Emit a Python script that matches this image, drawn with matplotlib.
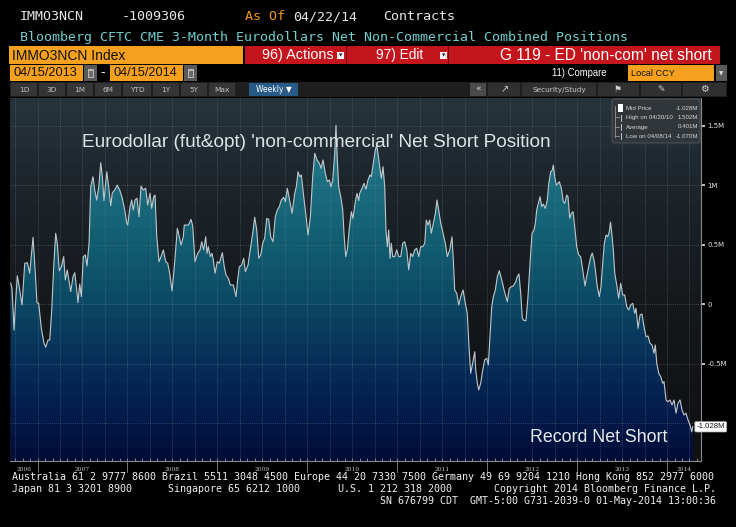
import numpy as np
import matplotlib
matplotlib.use("Agg")
import matplotlib.pyplot as plt
from matplotlib.patches import Rectangle, FancyBboxPatch, PathPatch
from matplotlib.path import Path
from matplotlib.lines import Line2D
import matplotlib.transforms as mtransforms
from matplotlib import font_manager

# ---------------- data ----------------
week_year = [
    2006.702, 2006.716, 2006.739, 2006.753, 2006.775, 2006.802, 2006.828, 2006.858, 2006.887, 2006.913,
    2006.950, 2006.969, 2006.994, 2007.013, 2007.042, 2007.072, 2007.091, 2007.117, 2007.136, 2007.158,
    2007.180, 2007.202, 2007.220, 2007.242, 2007.265, 2007.291, 2007.309, 2007.331, 2007.369, 2007.395,
    2007.414, 2007.436, 2007.450, 2007.469, 2007.487, 2007.509, 2007.532, 2007.550, 2007.573, 2007.592,
    2007.617, 2007.636, 2007.658, 2007.681, 2007.703, 2007.721, 2007.739, 2007.770, 2007.792, 2007.814,
    2007.832, 2007.858, 2007.887, 2007.914, 2007.940, 2007.970, 2007.992, 2008.003, 2008.029, 2008.047,
    2008.065, 2008.084, 2008.106, 2008.129, 2008.151, 2008.177, 2008.203, 2008.225, 2008.251, 2008.270,
    2008.292, 2008.307, 2008.326, 2008.351, 2008.373, 2008.399, 2008.426, 2008.448, 2008.470, 2008.496,
    2008.521, 2008.555, 2008.577, 2008.596, 2008.621, 2008.632, 2008.677, 2008.707, 2008.726, 2008.751,
    2008.781, 2008.807, 2008.826, 2008.848, 2008.870, 2008.885, 2008.899, 2008.922, 2008.940, 2008.955,
    2008.974, 2008.999, 2009.022, 2009.055, 2009.077, 2009.096, 2009.122, 2009.144, 2009.177, 2009.207,
    2009.226, 2009.244, 2009.271, 2009.293, 2009.311, 2009.341, 2009.366, 2009.393, 2009.415, 2009.438,
    2009.460, 2009.482, 2009.504, 2009.526, 2009.549, 2009.571, 2009.593, 2009.619, 2009.644, 2009.667,
    2009.689, 2009.711, 2009.738, 2009.756, 2009.778, 2009.800, 2009.830, 2009.860, 2009.878, 2009.897,
    2009.916, 2009.934, 2009.956, 2009.978, 2010.008, 2010.034, 2010.060, 2010.083, 2010.108, 2010.134,
    2010.153, 2010.175, 2010.200, 2010.223, 2010.245, 2010.264, 2010.283, 2010.305, 2010.319, 2010.334,
    2010.349, 2010.372, 2010.394, 2010.408, 2010.427, 2010.445, 2010.467, 2010.490, 2010.508, 2010.534,
    2010.553, 2010.572, 2010.583, 2010.608, 2010.631, 2010.653, 2010.675, 2010.697, 2010.712, 2010.734,
    2010.756, 2010.772, 2010.786, 2010.805, 2010.823, 2010.842, 2010.861, 2010.875, 2010.890, 2010.905,
    2010.920, 2010.934, 2010.950, 2010.972, 2010.994, 2011.017, 2011.039, 2011.061, 2011.083, 2011.106,
    2011.128, 2011.150, 2011.172, 2011.194, 2011.217, 2011.239, 2011.261, 2011.283, 2011.306, 2011.323,
    2011.342, 2011.361, 2011.379, 2011.398, 2011.424, 2011.442, 2011.461, 2011.484, 2011.509, 2011.535,
    2011.557, 2011.584, 2011.609, 2011.624, 2011.639, 2011.662, 2011.684, 2011.706, 2011.732, 2011.757,
    2011.779, 2011.798, 2011.817, 2011.839, 2011.862, 2011.873, 2011.891, 2011.906, 2011.928, 2011.951,
    2011.973, 2011.995, 2012.013, 2012.032, 2012.051, 2012.069, 2012.091, 2012.113, 2012.135, 2012.158,
    2012.188, 2012.224, 2012.246, 2012.269, 2012.291, 2012.318, 2012.335, 2012.354, 2012.373, 2012.391,
    2012.410, 2012.432, 2012.454, 2012.477, 2012.499, 2012.521, 2012.536, 2012.551, 2012.569, 2012.588,
    2012.607, 2012.624, 2012.647, 2012.669, 2012.685, 2012.707, 2012.725, 2012.736, 2012.751, 2012.769,
    2012.788, 2012.802, 2012.825, 2012.847, 2012.863, 2012.885, 2012.899, 2012.918, 2012.936, 2012.955,
    2012.974, 2012.996, 2013.018, 2013.040, 2013.063, 2013.088, 2013.114, 2013.133, 2013.152, 2013.169,
    2013.188, 2013.199, 2013.225, 2013.247, 2013.266, 2013.285, 2013.303, 2013.322, 2013.341, 2013.358,
    2013.372, 2013.388, 2013.403, 2013.419, 2013.441, 2013.463, 2013.485, 2013.507, 2013.530, 2013.552,
    2013.574, 2013.596, 2013.619, 2013.641, 2013.655, 2013.678, 2013.700, 2013.722, 2013.744, 2013.767,
    2013.789, 2013.811, 2013.833, 2013.856, 2013.870, 2013.886, 2013.908, 2013.930, 2013.952, 2013.967,
    2013.989, 2014.011, 2014.033, 2014.056, 2014.078, 2014.100, 2014.122, 2014.145, 2014.167, 2014.189,
    2014.211, 2014.234, 2014.256, 2014.275, 2014.286,
]
net_short_m = [
    0.176, 0.134, -0.216, -0.020, 0.240, 0.120, -0.006, 0.344, 0.349, 0.260,
    0.562, 0.344, 0.013, 0.008, -0.200, -0.327, -0.360, -0.300, -0.300, -0.048,
    0.315, 0.596, 0.512, 0.282, 0.315, 0.400, 0.204, 0.288, 0.106, 0.232,
    0.265, 0.120, 0.013, 0.170, 0.064, 0.400, 0.414, 0.321, 0.512, 0.987,
    1.070, 0.959, 0.875, 0.987, 1.188, 1.070, 0.869, 1.112, 0.981, 0.827,
    0.936, 0.959, 1.000, 0.959, 0.898, 0.791, 0.680, 0.665, 0.820, 0.875,
    0.790, 0.875, 0.890, 0.735, 0.992, 0.959, 0.973, 0.833, 0.931, 0.805,
    0.903, 0.917, 0.567, 0.357, 0.400, 0.456, 0.357, 0.344, 0.260, 0.112,
    0.315, 0.638, 0.567, 0.497, 0.567, 0.665, 0.665, 0.713, 0.657, 0.357,
    0.428, 0.456, 0.525, 0.456, 0.567, 0.428, 0.483, 0.400, 0.428, 0.372,
    0.260, 0.357, 0.344, 0.433, 0.315, 0.246, 0.218, 0.162, 0.162, 0.064,
    0.204, 0.315, 0.330, 0.386, 0.273, 0.330, 0.456, 0.596, 0.730, 0.623,
    0.386, 0.414, 0.512, 0.554, 0.721, 0.713, 0.567, 0.525, 0.735, 0.791,
    0.819, 0.875, 0.898, 0.861, 0.973, 0.889, 0.763, 0.931, 0.987, 1.112,
    1.070, 1.085, 0.931, 0.791, 0.581, 0.735, 1.070, 1.267, 1.211, 1.183,
    1.141, 1.211, 1.099, 1.029, 1.043, 0.987, 1.043, 1.267, 1.502, 1.211,
    0.987, 0.903, 0.791, 0.596, 0.400, 0.456, 0.638, 0.777, 0.721, 0.861,
    0.931, 0.870, 0.931, 0.973, 1.015, 0.965, 1.043, 1.085, 1.070, 1.183,
    1.294, 1.336, 1.267, 1.154, 1.057, 1.154, 0.987, 0.623, 0.483, 0.623,
    0.386, 0.512, 0.400, 0.400, 0.456, 0.400, 0.400, 0.512, 0.525, 0.456,
    0.288, 0.428, 0.400, 0.456, 0.470, 0.400, 0.483, 0.483, 0.512, 0.707,
    0.665, 0.707, 0.596, 0.665, 0.763, 0.875, 0.791, 0.680, 0.596, 0.512,
    0.400, 0.456, 0.567, 0.372, 0.120, 0.092, -0.006, 0.064, 0.120, 0.008,
    -0.076, -0.356, -0.579, -0.495, -0.398, -0.551, -0.663, -0.719, -0.663, -0.551,
    -0.467, -0.453, -0.509, -0.272, -0.020, 0.064, 0.120, 0.232, 0.282, 0.218,
    0.120, 0.022, 0.134, 0.148, 0.153, 0.190, 0.232, 0.254, 0.092, -0.117,
    -0.137, -0.137, 0.064, 0.344, 0.596, 0.623, 0.680, 0.791, 0.847, 0.903,
    0.819, 0.841, 0.805, 0.875, 1.015, 1.112, 1.127, 1.169, 1.070, 1.000,
    1.015, 1.029, 0.973, 0.861, 0.847, 0.917, 0.903, 0.721, 0.763, 0.777,
    0.651, 0.483, 0.414, 0.400, 0.288, 0.153, 0.260, 0.330, 0.400, 0.430,
    0.372, 0.315, 0.148, 0.064, 0.148, 0.344, 0.512, 0.581, 0.567, 0.609,
    0.690, 0.581, 0.456, 0.260, 0.162, 0.050, 0.176, 0.078, 0.078, -0.020,
    -0.048, -0.006, 0.008, -0.076, -0.034, -0.201, -0.090, -0.081, -0.188, -0.272,
    -0.266, -0.327, -0.341, -0.411, -0.341, -0.495, -0.579, -0.607, -0.663, -0.649,
    -0.803, -0.817, -0.803, -0.845, -0.803, -0.914, -0.831, -0.803, -0.887, -0.929,
    -0.914, -0.971, -1.013, -1.070, -1.028,
]
year_labels = ["2006", "2007", "2008", "2009", "2010", "2011", "2012", "2013", "2014"]
ytick_vals = [-0.5, 0.0, 0.5, 1.0, 1.5]
ytick_labels = ["-0.5M", "0", "0.5M", "1M", "1.5M"]
grid_vals = [-1.0, -0.5, 0.0, 0.5, 1.0, 1.5]
last_value = -1.028
last_label = "-1.028M"
legend_rows = [("Mid Price", "-1.028M"), ("High on 04/20/10", "1.502M"),
               ("Average", "0.401M"), ("Low on 04/08/14", "-1.070M")]
chart_title = "Eurodollar (fut&opt) 'non-commercial' Net Short Position"
chart_note = "Record Net Short"

# ---------------- figure ----------------
W, H = 736, 527
fig = plt.figure(figsize=(W / 100, H / 100), dpi=100, facecolor="black")
renderer = fig.canvas.get_renderer()

avail = {f.name for f in font_manager.fontManager.ttflist}
NARROW = "Liberation Sans Narrow" if "Liberation Sans Narrow" in avail else "Liberation Sans"
MONO = "DejaVu Sans Mono"
UI = "DejaVu Sans"

ORANGE = "#f5a01e"
RED = "#c4141c"


def rect(x0, y0, x1, y1, color, z=1, ec="none", lw=0):
    r = Rectangle((x0 / W, 1 - y1 / H), (x1 - x0) / W, (y1 - y0) / H,
                  transform=fig.transFigure, fc=color, ec=ec, lw=lw, zorder=z)
    fig.add_artist(r)
    return r


def txt(x, y, s, size, color, family=MONO, ha="left", va="center", **kw):
    return fig.text(x / W, 1 - y / H, s, fontsize=size, color=color, family=family,
                    ha=ha, va=va, **kw)


def fit(x, y, s, width, color, family=NARROW, ha="left", va="center", **kw):
    t = txt(x, y, s, 10, color, family=family, ha=ha, va=va, **kw)
    bb = t.get_window_extent(renderer)
    t.set_fontsize(10 * width / bb.width)
    return t


# ---------------- plot area ----------------
x0, x1 = 2006.694, 2014.378
ylo, yhi = -1.315, 1.731
ax = fig.add_axes([10 / W, 1 - 461 / H, 691 / W, 363 / H])
ax.set_xlim(x0, x1)
ax.set_ylim(ylo, yhi)
ax.set_facecolor("#111315")


def band_image(stops, nb):
    t = (np.arange(nb) + 0.5) / nb
    pos = [s[0] for s in stops]
    cols = np.array([s[1] for s in stops], dtype=float) / 255.0
    img = np.stack([np.interp(t, pos, cols[:, k]) for k in range(3)], axis=-1)
    return img[:, None, :]


def tpos(v):
    return (v - ylo) / (yhi - ylo)


bg_stops = [(0.0, (14, 16, 18)), (tpos(-0.5), (18, 20, 23)), (tpos(0.0), (22, 25, 28)),
            (tpos(0.5), (25, 30, 34)), (tpos(1.0), (29, 37, 43)), (1.0, (39, 52, 60))]
fill_stops = [(0.0, (2, 12, 55)), (tpos(-1.0), (3, 24, 72)), (tpos(-0.5), (6, 45, 88)),
              (tpos(0.0), (12, 72, 100)), (tpos(0.5), (18, 92, 112)), (tpos(1.0), (27, 110, 128)),
              (tpos(1.5), (38, 128, 142)), (1.0, (44, 136, 150))]

ax.imshow(band_image(bg_stops, 28), origin="lower", extent=[x0, x1, ylo, yhi],
          aspect="auto", interpolation="nearest", zorder=0)
fill_img = ax.imshow(band_image(fill_stops, 28), origin="lower", extent=[x0, x1, ylo, yhi],
                     aspect="auto", interpolation="nearest", zorder=1)
verts = [(week_year[0], ylo)] + list(zip(week_year, net_short_m)) + [(week_year[-1], ylo), (week_year[0], ylo)]
codes = [Path.MOVETO] + [Path.LINETO] * (len(verts) - 2) + [Path.CLOSEPOLY]
clip = PathPatch(Path(verts, codes), facecolor="none", edgecolor="none", transform=ax.transData)
ax.add_patch(clip)
fill_img.set_clip_path(clip)

# grid
for g in grid_vals:
    ax.axhline(g, color="#7a8a94", lw=0.5, ls=(0, (1, 2)), alpha=0.75, zorder=2)
for q in np.arange(2006.75, 2014.3, 0.25):
    ax.axvline(q, color="#7a8a94", lw=0.5, ls=(0, (1, 2)), alpha=0.75, zorder=2)

ax.plot(week_year, net_short_m, color="#bfc7cb", lw=0.8, zorder=3)

for s in ["top", "left"]:
    ax.spines[s].set_visible(False)
for s in ["right", "bottom"]:
    ax.spines[s].set_color("#8a8a8a")
    ax.spines[s].set_linewidth(0.8)

ax.yaxis.tick_right()
ax.set_yticks(ytick_vals)
ax.set_yticklabels(ytick_labels)
ax.tick_params(axis="y", colors="#e0e0e0", labelsize=5, length=3, width=1.2, pad=1.5)
ax.set_xticks([])
months = [y + m / 12 for y in range(2006, 2015) for m in range(12) if x0 < y + m / 12 < x1]
ax.set_xticks(months, minor=True)
ax.tick_params(axis="x", which="minor", direction="in", length=2.5, width=0.6, colors="#9a9a9a")

# year labels and separators under the axis
blend = mtransforms.blended_transform_factory(ax.transData, ax.transAxes)
for lab in year_labels:
    y = int(lab)
    c = (max(y, x0) + min(y + 1, x1)) / 2
    ax.text(c, -0.017, lab, transform=blend, ha="center", va="top", fontsize=4.2,
            color="#c8c8c8", family="DejaVu Serif", clip_on=False)
    if x0 < y < x1:
        ax.add_line(Line2D([y, y], [-0.003, -0.03], transform=blend, color="#8a8a8a",
                           lw=0.6, clip_on=False))

# last value tag
ax.text(0.9935, last_value, last_label,
        transform=mtransforms.blended_transform_factory(ax.transAxes, ax.transData),
        ha="left", va="center", fontsize=5.6, color="#111111", family=NARROW, clip_on=False, zorder=6,
        bbox=dict(boxstyle="round,pad=0.22,rounding_size=0.15", fc="white", ec="#999999", lw=0.5))

# chart annotations
fit(82, 142, chart_title, 473, "#dde3e6")
fit(530, 437, chart_note, 138, "#e6eaec")

# legend box
lb = FancyBboxPatch((612 / W, 1 - 143 / H), 88 / W, 44 / H, transform=fig.transFigure,
                    boxstyle="round,pad=0,rounding_size=0.004", fc="#33373b", ec="#5a5e62",
                    lw=0.6, alpha=0.92, zorder=2)
fig.add_artist(lb)
rows_y = [108, 117.5, 127, 136]
for (lab, val), ry in zip(legend_rows, rows_y):
    txt(626, ry, lab, 4.4, "#d8d8d8", family=NARROW)
    txt(698, ry, val, 4.4, "#d8d8d8", family=NARROW, ha="right")
rect(618, 104, 623, 112, "white", z=3)
fig.add_artist(Line2D([615 / W, 615 / W], [1 - 106 / H, 1 - 137 / H], transform=fig.transFigure,
                      color="#aaaaaa", lw=0.5, zorder=3))
for ry in rows_y[1:]:
    fig.add_artist(Line2D([615 / W, 619 / W], [1 - ry / H, 1 - ry / H], transform=fig.transFigure,
                          color="#aaaaaa", lw=0.5, zorder=3))
    fig.add_artist(Line2D([620.5 / W, 620.5 / W], [1 - (ry - 3) / H, 1 - (ry + 3) / H],
                          transform=fig.transFigure, color="#dddddd", lw=0.6, zorder=3))

# ---------------- header ----------------
HS = 9.6
txt(20, 17, "IMMO3NCN", HS, "#e6e6e6")
txt(122, 17, "-1009306", HS, "#e6e6e6")
txt(245, 17, "As Of", HS, "#f0961e")
txt(293, 17, "04/22/14", HS, "#e6e6e6")
txt(383, 17, "Contracts", HS, "#e6e6e6")
fit(20, 37, "Bloomberg CFTC CME 3-Month Eurodollars Net Non-Commercial Combined Positions", 609,
    "#6fcfcf", family=MONO)

# row 3
rect(9, 46, 243, 64, ORANGE)
fit(12, 55.5, "IMMO3NCN Index", 113, "#111111")
rect(245, 46, 720, 64, RED)
rect(346, 46, 347.2, 64, "#7a080c", z=1.5)
rect(448, 46, 449.2, 64, "#7a080c", z=1.5)
fit(262, 55.5, "96) Actions", 71, "white")
fit(376, 55.5, "97) Edit", 47, "white")
fit(500, 55.5, "G 119 - ED 'non-com' net short", 212, "white")
for bx in (337, 440):
    rect(bx, 52, bx + 7, 59, "#f0f0f0", z=2)
    txt(bx + 3.5, 55.8, "\u25bc", 3.2, "#222222", family=UI, ha="center")

# row 4
rect(10, 65, 83, 81, ORANGE)
fit(14, 73.5, "04/15/2013", 64, "#111111")
rect(110, 65, 183, 81, ORANGE)
fit(114, 73.5, "04/15/2014", 64, "#111111")
for ix in (84, 184):
    rect(ix, 65, ix + 13, 81, "#5a5a5a")
    rect(ix + 3.5, 68.5, ix + 9.5, 77.5, "#b8b8b8", z=1.5)
    rect(ix + 4.5, 70.5, ix + 8.5, 76.5, "#6a6a6a", z=1.6)
txt(103, 73, "-", 9, "white", family=UI, ha="center")
fit(552, 73.5, "11) Compare", 55, "white")
rect(628, 65, 714, 81, ORANGE)
fit(631, 73.5, "Local CCY", 44, "#111111")
rect(716, 65, 727, 81, "#5a5a5a")
txt(721.5, 73.5, "\u25bc", 4, "#dddddd", family=UI, ha="center")

# row 5 toolbar
rect(10, 82, 727, 97, "#1e1e1e")
btns = [("1D", 11, 37), ("3D", 39, 65), ("1M", 67, 93), ("6M", 95, 121), ("YTD", 123, 151),
        ("1Y", 153, 179), ("5Y", 181, 207), ("Max", 209, 235)]
for lab, a, b in btns:
    rect(a, 83, b, 96, "#353535", z=1.2)
    txt((a + b) / 2, 89.8, lab, 5.3, "#c0c0c0", family=UI, ha="center")
rect(249, 83, 298, 96, "#275a86", z=1.2)
txt(273.5, 89.8, "Weekly \u25bc", 5.5, "white", family=UI, ha="center")
rect(470, 83, 486, 96, "#4a4a4a", z=1.2)
txt(478, 89.5, "\u00ab", 6.5, "#dddddd", family=UI, ha="center")
for a, b in [(487, 521), (521, 597), (597, 640), (640, 682), (682, 727)]:
    rect(a + 0.6, 83, b - 0.6, 96, "#303030", z=1.2)
txt(505, 89.5, "\u2197", 7, "#cfcfcf", family=UI, ha="center")
txt(559, 89.8, "Security/Study", 5.3, "#c8c8c8", family=UI, ha="center")
txt(618, 89.5, "\u2691", 6.5, "#cfcfcf", family=UI, ha="center")
txt(661, 89.5, "\u270e", 6.5, "#cfcfcf", family=UI, ha="center")
txt(704, 89.5, "\u2699", 7, "#cfcfcf", family=UI, ha="center")

# ---------------- footer ----------------
fit(12, 477, "Australia 61 2 9777 8600 Brazil 5511 3048 4500 Europe 44 20 7330 7500 Germany 49 69 9204 1210 Hong Kong 852 2977 6000",
    704, "#f0f0f0", family=MONO)
FS = 7.2
txt(12, 489, "Japan 81 3 3201 8900", FS, "#f0f0f0")
txt(168, 489, "Singapore 65 6212 1000", FS, "#f0f0f0")
txt(338, 489, "U.S. 1 212 318 2000", FS, "#f0f0f0")
txt(716, 489, "Copyright 2014 Bloomberg Finance L.P.", FS, "#f0f0f0", ha="right")
txt(716, 501, "SN 676799 CDT  GMT-5:00 G731-2039-0 01-May-2014 13:00:36", FS, "#f0f0f0", ha="right")

fig.savefig("out.png", dpi=100, facecolor="black")
